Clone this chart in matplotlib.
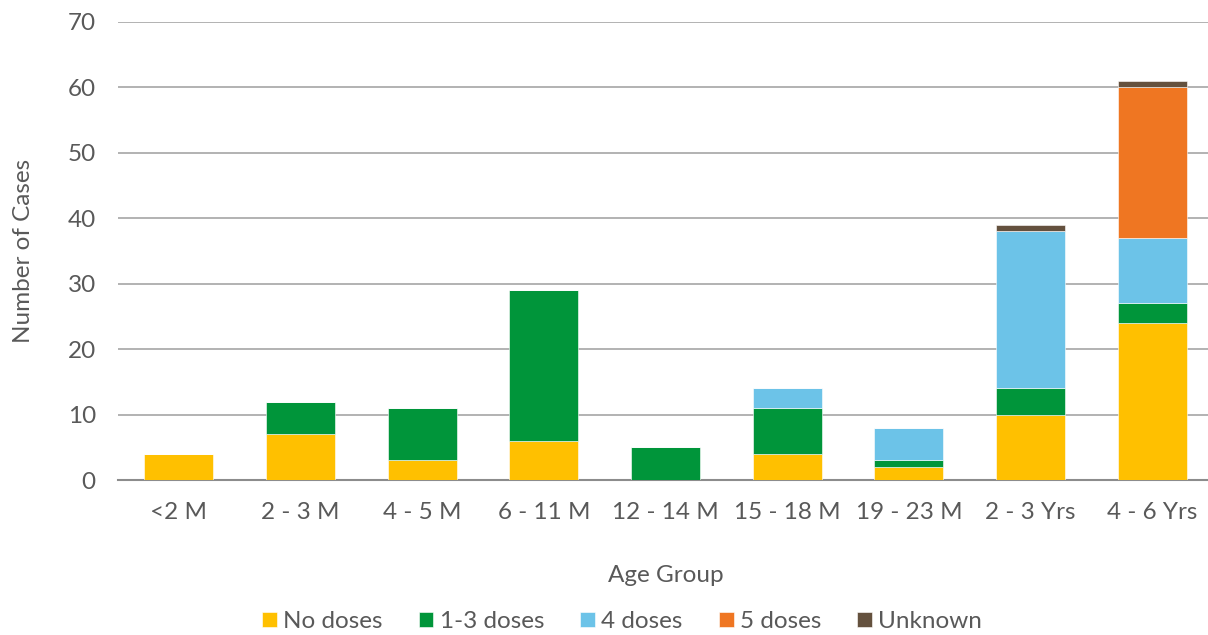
import matplotlib
matplotlib.use("Agg")
import matplotlib.pyplot as plt
import numpy as np

plt.rcParams['font.family'] = ['Lato', 'DejaVu Sans']

age_groups = ["<2 M", "2 - 3 M", "4 - 5 M", "6 - 11 M", "12 - 14 M",
              "15 - 18 M", "19 - 23 M", "2 - 3 Yrs", "4 - 6 Yrs"]
no_doses = [4, 7, 3, 6, 0, 4, 2, 10, 24]
doses_1_3 = [0, 5, 8, 23, 5, 7, 1, 4, 3]
doses_4 = [0, 0, 0, 0, 0, 3, 5, 24, 10]
doses_5 = [0, 0, 0, 0, 0, 0, 0, 0, 23]
unknown = [0, 0, 0, 0, 0, 0, 0, 1, 1]

series = [
    ("No doses", no_doses, "#FFC000"),
    ("1-3 doses", doses_1_3, "#00953A"),
    ("4 doses", doses_4, "#6CC3E8"),
    ("5 doses", doses_5, "#EF7622"),
    ("Unknown", unknown, "#64513E"),
]

text_color = "#595959"
fs = 17.5

fig = plt.figure(figsize=(12.08, 6.35), dpi=100)
ax = fig.add_axes([0.0977, 0.244, 0.9065, 0.7214])

x = np.arange(len(age_groups))
bottom = np.zeros(len(age_groups))
for name, vals, color in series:
    vals = np.array(vals, dtype=float)
    ax.bar(x, vals, width=0.567, bottom=bottom, color=color, label=name,
           edgecolor="white", linewidth=0.4, zorder=3)
    bottom += vals

ax.set_ylim(0, 70)
ax.set_xlim(-0.5, len(age_groups) - 0.5)
ax.set_yticks(range(0, 71, 10))
ax.set_xticks(x)
ax.set_xticklabels(age_groups)
ax.yaxis.grid(True, color="#A6A6A6", linewidth=1.2, zorder=0)
ax.set_axisbelow(True)
for s in ["top", "right", "left"]:
    ax.spines[s].set_visible(False)
ax.spines["bottom"].set_color("#8C8C8C")
ax.spines["bottom"].set_linewidth(1.5)
ax.tick_params(axis="both", length=0, labelsize=fs, colors=text_color)
ax.tick_params(axis="x", pad=16)
ax.tick_params(axis="y", pad=16)

ax.set_xlabel("Age Group", fontsize=fs, color=text_color, labelpad=30)
ax.set_ylabel("Number of Cases", fontsize=fs, color=text_color, labelpad=24)

handles, labels = ax.get_legend_handles_labels()
leg = fig.legend(handles, labels, loc="center", bbox_to_anchor=(0.515, 0.021),
                 ncol=5, frameon=False, fontsize=fs, handlelength=0.6,
                 handleheight=0.6, handletextpad=0.25, columnspacing=1.5)
for t in leg.get_texts():
    t.set_color(text_color)

fig.savefig("out.png", dpi=100)
